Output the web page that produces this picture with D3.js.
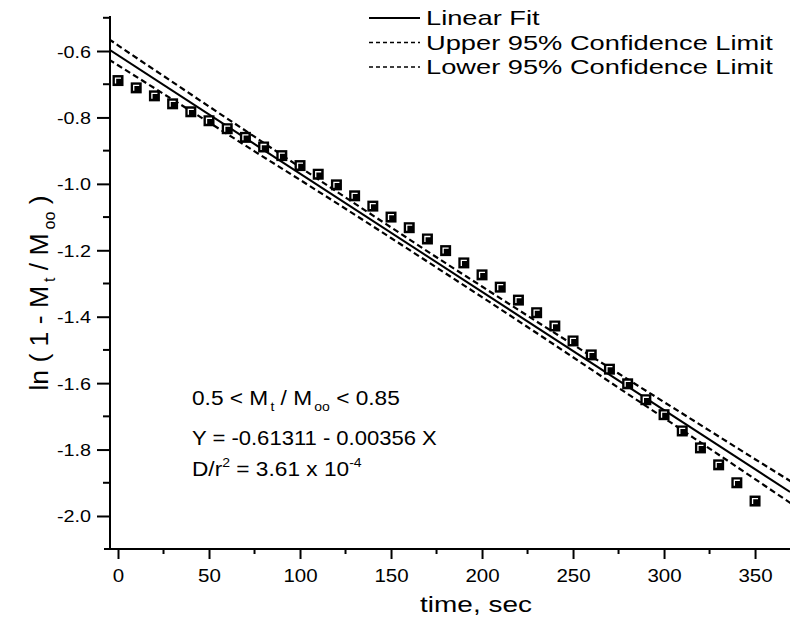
<!DOCTYPE html>
<html>
<head>
<meta charset="utf-8">
<script src="https://cdn.jsdelivr.net/npm/d3@7"></script>
<style>
  html, body { margin: 0; padding: 0; background: #fff; }
  svg { display: block; font-family: "Liberation Sans", Arial, sans-serif; }
  text { fill: #000; }
</style>
</head>
<body>
<svg id="chart" width="790" height="627"></svg>
<script>
// Sampling times (s) and measured ln(1 - Mt/Moo)
const times = [0, 10, 20, 30, 40, 50, 60, 70, 80, 90, 100, 110, 120, 130, 140, 150, 160, 170,
               180, 190, 200, 210, 220, 230, 240, 250, 260, 270, 280, 290, 300, 310, 320, 330, 340, 350];
const lnValues = [-0.689, -0.711, -0.735, -0.759, -0.783, -0.810, -0.834, -0.860, -0.889, -0.915,
                  -0.945, -0.971, -1.003, -1.036, -1.067, -1.100, -1.132, -1.166, -1.201, -1.238,
                  -1.274, -1.311, -1.350, -1.388, -1.428, -1.473, -1.515, -1.558, -1.602, -1.650,
                  -1.695, -1.744, -1.795, -1.846, -1.900, -1.955];

// Linear fit Y = A + B X
const fitIntercept = -0.61311;
const fitSlope = -0.00356;

// 95% confidence limits of the fit
const bandTimes = [-5, 0, 25, 50, 75, 100, 125, 150, 175, 200, 225, 250, 275, 300, 325, 350, 370];
const upperLimit = [-0.564, -0.583, -0.675, -0.767, -0.858, -0.950, -1.041, -1.131, -1.221,
                    -1.309, -1.397, -1.484, -1.571, -1.657, -1.743, -1.829, -1.897];
const lowerLimit = [-0.626, -0.643, -0.729, -0.815, -0.902, -0.988, -1.075, -1.163, -1.252,
                    -1.341, -1.431, -1.522, -1.614, -1.705, -1.797, -1.889, -1.963];

// Axis ticks
const xMajorTicks = [0, 50, 100, 150, 200, 250, 300, 350];
const xMinorTicks = [25, 75, 125, 175, 225, 275, 325];
const yMajorTicks = [-2.0, -1.8, -1.6, -1.4, -1.2, -1.0, -0.8, -0.6];
const yMinorTicks = [-1.9, -1.7, -1.5, -1.3, -1.1, -0.9, -0.7, -0.5];

const legendItems = [
  { label: "Linear Fit", dash: null },
  { label: "Upper 95% Confidence Limit", dash: "4,3" },
  { label: "Lower 95% Confidence Limit", dash: "4,3" }
];

const svg = d3.select("#chart");
const plotLeft = 110, plotRight = 790, plotTop = 16, plotBottom = 549;

const x = d3.scaleLinear().domain([-4.4, 369.2]).range([plotLeft, plotRight]);
const y = d3.scaleLinear().domain([-2.0994, -0.4946]).range([plotBottom, plotTop]);

svg.append("defs").append("clipPath").attr("id", "plot")
  .append("rect").attr("x", plotLeft).attr("y", plotTop)
  .attr("width", plotRight - plotLeft).attr("height", plotBottom - plotTop);

// text with horizontal stretch
function label(g, px, py, sx, size, anchor) {
  return g.append("text")
    .attr("transform", `translate(${px},${py}) scale(${sx},1)`)
    .attr("font-size", size)
    .attr("fill", "#000")
    .attr("text-anchor", anchor || "start");
}

// Axes
const xAxis = d3.axisBottom(x).tickValues(xMajorTicks).tickSize(10);
const gx = svg.append("g").attr("transform", `translate(0,${plotBottom})`).call(xAxis);
gx.select(".domain").remove();
gx.selectAll(".tick line").attr("stroke", "#000").attr("stroke-width", 2);
gx.selectAll(".tick text").remove();
gx.selectAll(".tick").each(function(d) {
  label(d3.select(this), 0, 33, 1.08, 19, "middle").text(d);
});
svg.append("g").selectAll("line").data(xMinorTicks).join("line")
  .attr("x1", d => x(d)).attr("x2", d => x(d)).attr("y1", plotBottom).attr("y2", plotBottom + 5)
  .attr("stroke", "#000").attr("stroke-width", 2);

const yAxis = d3.axisLeft(y).tickValues(yMajorTicks).tickSize(13);
const gy = svg.append("g").attr("transform", `translate(${plotLeft},0)`).call(yAxis);
gy.select(".domain").remove();
gy.selectAll(".tick line").attr("stroke", "#000").attr("stroke-width", 2);
gy.selectAll(".tick text").remove();
gy.selectAll(".tick").each(function(d) {
  label(d3.select(this), -19, 6, 1.2, 16.5, "end").text(d.toFixed(1));
});
svg.append("g").selectAll("line").data(yMinorTicks).join("line")
  .attr("x1", plotLeft - 7).attr("x2", plotLeft).attr("y1", d => y(d)).attr("y2", d => y(d))
  .attr("stroke", "#000").attr("stroke-width", 2);

// axis lines
svg.append("line").attr("x1", plotLeft).attr("x2", plotLeft).attr("y1", plotTop).attr("y2", plotBottom + 1)
  .attr("stroke", "#000").attr("stroke-width", 2);
svg.append("line").attr("x1", plotLeft - 6).attr("x2", plotRight).attr("y1", plotBottom).attr("y2", plotBottom)
  .attr("stroke", "#000").attr("stroke-width", 2);

// Fit and confidence limits
const plot = svg.append("g").attr("clip-path", "url(#plot)");
const xd = x.domain();
plot.append("line")
  .attr("x1", x(xd[0])).attr("y1", y(fitIntercept + fitSlope * xd[0]))
  .attr("x2", x(xd[1])).attr("y2", y(fitIntercept + fitSlope * xd[1]))
  .attr("stroke", "#000").attr("stroke-width", 2);

const bandLine = d3.line().x((d, i) => x(bandTimes[i])).y(d => y(d)).curve(d3.curveMonotoneX);
[upperLimit, lowerLimit].forEach(arr => {
  plot.append("path").attr("d", bandLine(arr))
    .attr("fill", "none").attr("stroke", "#000").attr("stroke-width", 2.2)
    .attr("stroke-dasharray", "6,3.5");
});

// Data markers
const pts = svg.append("g").selectAll("g").data(times).join("g")
  .attr("transform", (d, i) => `translate(${x(d)},${y(lnValues[i])})`);
pts.append("rect").attr("x", -5.5).attr("y", -5.5).attr("width", 11).attr("height", 11).attr("fill", "#000");
pts.append("path").attr("d", "M-2.5,3V-2.5H3").attr("fill", "none").attr("stroke", "#fff").attr("stroke-width", 1.3);

// Axis titles
label(svg, 476, 612, 1.3, 21.5, "middle").text("time, sec");

const yt = svg.append("text")
  .attr("transform", "translate(48,293) rotate(-90)")
  .attr("font-size", 26.5).attr("text-anchor", "middle").attr("fill", "#000");
yt.append("tspan").text("ln ( 1 - M");
yt.append("tspan").attr("font-size", 16).attr("dy", 7).attr("dx", 4).text("t");
yt.append("tspan").attr("dy", -7).text(" / M");
yt.append("tspan").attr("font-size", 16).attr("dy", 7).attr("dx", 4).text("oo");
yt.append("tspan").attr("dy", -7).text(" )");

// Legend
const lg = svg.append("g");
legendItems.forEach((item, i) => {
  const cy = 18 + i * 24.5;
  lg.append("line").attr("x1", 369).attr("x2", 420).attr("y1", cy).attr("y2", cy)
    .attr("stroke", "#000").attr("stroke-width", item.dash ? 1.5 : 2)
    .attr("stroke-dasharray", item.dash);
  label(lg, 426, cy + 7, 1.33, 20.5).text(item.label);
});

// Annotation
const ann = svg.append("g");
const a1 = label(ann, 192, 405, 1.08, 21);
a1.append("tspan").text("0.5 < M");
a1.append("tspan").attr("font-size", 13).attr("dy", 6).attr("dx", 2).text("t");
a1.append("tspan").attr("dy", -6).text(" / M");
a1.append("tspan").attr("font-size", 13).attr("dy", 6).attr("dx", 2).text("oo");
a1.append("tspan").attr("dy", -6).text(" < 0.85");
label(ann, 192, 445, 1.05, 21).text("Y = -0.61311 - 0.00356 X");
const a3 = label(ann, 192, 476, 1.08, 21);
a3.append("tspan").text("D/r");
a3.append("tspan").attr("font-size", 13).attr("dy", -9).text("2");
a3.append("tspan").attr("dy", 9).text(" = 3.61 x 10");
a3.append("tspan").attr("font-size", 13).attr("dy", -9).text("-4");
</script>
</body>
</html>
